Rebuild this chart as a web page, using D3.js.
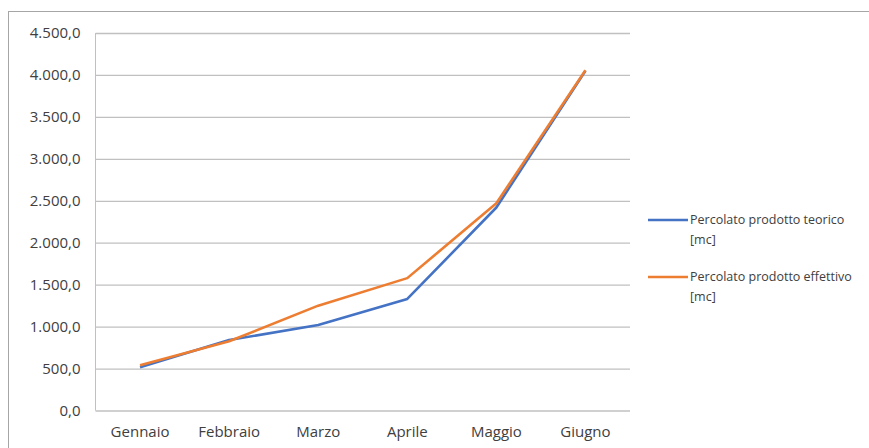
<!DOCTYPE html>
<html><head><meta charset="utf-8">
<script src="https://cdn.jsdelivr.net/npm/d3@7"></script>
<style>body{margin:0;background:#fff}svg{display:block}</style>
</head><body>
<script>
const categories = ["Gennaio","Febbraio","Marzo","Aprile","Maggio","Giugno"];
const teorico = [515, 840, 1020, 1330, 2420, 4050];
const effettivo = [540, 825, 1250, 1578, 2470, 4055];
const seriesNames = ["Percolato prodotto teorico [mc]","Percolato prodotto effettivo [mc]"];
const yTicks = [0,500,1000,1500,2000,2500,3000,3500,4000,4500];
const colors = ["#4472C4","#ED7D31"];

const W=869,H=448;
const svg=d3.select("body").append("svg").attr("width",W).attr("height",H);
svg.append("rect").attr("x",8.5).attr("y",11.5).attr("width",W).attr("height",H).attr("fill","#fff").attr("stroke","#a6a6a6").attr("stroke-width",1);

const m={left:95.5,right:630,top:33,bottom:410.5};
const x=d3.scaleBand().domain(categories).range([m.left,m.right]);
const y=d3.scaleLinear().domain([0,4500]).range([m.bottom,m.top]);
const fmt=v=>d3.formatLocale({decimal:",",thousands:".",grouping:[3]}).format(",.1f")(v);
const font="'Open Sans', sans-serif";

const gy=svg.append("g").attr("transform",`translate(${m.left},0)`)
  .call(d3.axisLeft(y).tickValues(yTicks).tickSize(-(m.right-m.left)).tickPadding(15).tickFormat(fmt));
gy.select(".domain").attr("stroke","#c0c0c0").attr("d",`M0,${m.top}V${m.bottom}`);
gy.selectAll(".tick line").attr("stroke","#c0c0c0").attr("stroke-width",1.3);
gy.selectAll("text").attr("fill","#404040").style("font-family",font).style("font-size","15px");

const gx=svg.append("g").attr("transform",`translate(0,${m.bottom})`)
  .call(d3.axisBottom(x).tickSize(0).tickPadding(16));
gx.select(".domain").remove();
gx.selectAll("text").attr("fill","#404040").style("font-family",font).style("font-size","15px");

const line=d3.line().x((d,i)=>x(categories[i])+x.bandwidth()/2).y(d=>y(d));
[teorico,effettivo].forEach((s,i)=>{
  svg.append("path").datum(s).attr("d",line).attr("fill","none").attr("stroke",colors[i]).attr("stroke-width",2.6).attr("stroke-linejoin","round");
});

const leg=svg.append("g");
[0,1].forEach(i=>{
  const ly=220+i*57;
  leg.append("line").attr("x1",648).attr("x2",688).attr("y1",ly).attr("y2",ly).attr("stroke",colors[i]).attr("stroke-width",2.6);
  const words=seriesNames[i].split(" [");
  const t=leg.append("text").attr("x",690).attr("y",ly+4).attr("fill","#404040").style("font-family",font).style("font-size","12.5px");
  t.append("tspan").attr("x",690).text(words[0]);
  t.append("tspan").attr("x",690).attr("dy",20).text("["+words[1]);
});
</script>
</body></html>
